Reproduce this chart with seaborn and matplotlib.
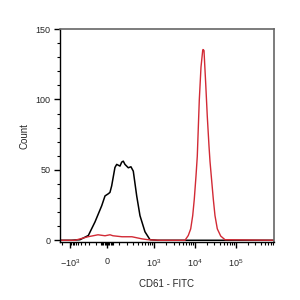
import numpy as np
import matplotlib
matplotlib.use("Agg")
import matplotlib.pyplot as plt
import seaborn as sns

# unstained / isotype control (black)
ctrl_x = [-2260, -900, -440, -215, -113, -44, -16, 10, 24, 38, 66, 82, 114, 132,
          150, 170, 215, 256, 297, 366, 445, 596, 795, 1200, 844000]
ctrl_y = [0, 0, 0.4, 3.4, 13, 24.5, 31.5, 33, 34, 38.6, 51.7, 53.9, 52.7, 55.5,
          56.2, 53.9, 51.5, 52.2, 49.1, 31.5, 17.5, 6, 0.4, 0, 0]

# CD61 stained sample (red)
cd61_x = [-2260, -665, -222, -138, -79, -16, 24, 49, 135, 272, 500, 707, 1400,
          5720, 6880, 7880, 8820, 9640, 10610, 11410, 12770, 14050, 15460,
          15720, 16630, 18300, 20020, 22020, 23310, 25040, 28060, 30840,
          35130, 42510, 54110, 844000]
cd61_y = [0, 0, 2.5, 3.2, 3.9, 3.2, 3.9, 3.2, 2.5, 2.5, 1, 0.4, 0,
          0, 3.4, 8.1, 17.5, 29.2, 45.6, 59.7, 99.6, 123, 134.8,
          135.5, 134.8, 111.4, 87.9, 67, 56, 45.6, 29.2, 17.5,
          8.1, 3, 0.4, 0]

major_ticks = [-1000, 0, 1000, 10000, 100000]
major_labels = ["$-10^3$", "0", "$10^3$", "$10^4$", "$10^5$"]

# biexponential-like display transform
KP, WP, KN, WN = 17.8, 143.0, 12.3, 99.2


def fwd(v):
    v = np.asarray(v, dtype=float)
    return np.where(v >= 0, KP * np.arcsinh(v / WP), KN * np.arcsinh(v / WN))


def inv(p):
    p = np.asarray(p, dtype=float)
    return np.where(p >= 0, WP * np.sinh(p / KP), WN * np.sinh(p / KN))


sns.set_style("white")
plt.rcParams["font.family"] = ["Liberation Sans", "DejaVu Sans"]
plt.rcParams["mathtext.fontset"] = "custom"
plt.rcParams["mathtext.rm"] = "Liberation Sans"
plt.rcParams["mathtext.it"] = "Liberation Sans"
plt.rcParams["mathtext.bf"] = "Liberation Sans:bold"

fig = plt.figure(figsize=(3, 3), dpi=100)
ax = fig.add_axes([0.2, 0.193, 0.713, 0.71])
ax.set_xscale("function", functions=(fwd, inv))

sns.lineplot(x=ctrl_x, y=ctrl_y, color="black", lw=1.1, ax=ax)
sns.lineplot(x=cd61_x, y=cd61_y, color="#d22a35", lw=1.0, ax=ax)

ax.set_xlim(-2260, 844000)
ax.set_ylim(-1.3, 150)

minor = list(range(-50, 60, 10)) + [-2000] + list(range(-900, 0, 100)) + \
    list(range(100, 1000, 100)) + list(range(2000, 10000, 1000)) + \
    list(range(20000, 100000, 10000)) + list(range(200000, 900000, 100000))
minor = [m for m in minor if m != 0]
ax.set_xticks(major_ticks)
ax.set_xticklabels(major_labels)
ax.set_xticks(minor, minor=True)
ax.set_yticks([0, 50, 100, 150])
ax.set_yticks(range(0, 151, 10), minor=True)

ax.tick_params(axis="both", which="major", direction="out", length=4, width=1,
               labelsize=6.5, color="black", bottom=True, left=True)
ax.tick_params(axis="both", which="minor", direction="out", length=2.2, width=0.8,
               color="black", bottom=True, left=True)
ax.tick_params(axis="x", which="major", pad=7)
ax.tick_params(axis="y", which="major", pad=3)

for s in ["left", "bottom"]:
    ax.spines[s].set_color("black")
    ax.spines[s].set_linewidth(1.0)
for s in ["top", "right"]:
    ax.spines[s].set_color("#666666")
    ax.spines[s].set_linewidth(1.2)

ax.set_xlabel("CD61 - FITC", fontsize=7, labelpad=7)
ax.set_ylabel("Count", fontsize=7, labelpad=4)

fig.savefig("out.png", dpi=100)
